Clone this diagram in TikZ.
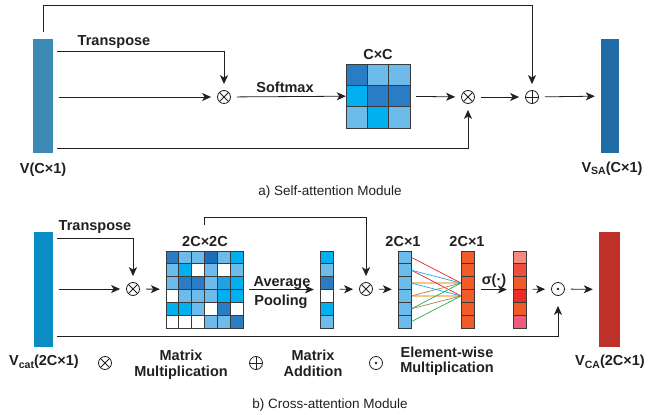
\documentclass[tikz,border=0pt]{standalone}
\usepackage{fontspec}
\setmainfont{Liberation Sans}
\usetikzlibrary{arrows.meta}

\definecolor{ink}{HTML}{231F20}
\definecolor{vA}{HTML}{3D8AB5}
\definecolor{vSA}{HTML}{1F6CA6}
\definecolor{vCat}{HTML}{0A8CC4}
\definecolor{vCA}{HTML}{C0302B}
\definecolor{dkb}{HTML}{2A7DC4}
\definecolor{dkbb}{HTML}{1C6EB6}
\definecolor{ltb}{HTML}{6DBBEA}
\definecolor{cyb}{HTML}{00B0F0}
\definecolor{mdb}{HTML}{22A0E0}
\definecolor{whb}{HTML}{FFFFFF}
\definecolor{org}{HTML}{F15A29}
\definecolor{salm}{HTML}{F58B80}
\definecolor{rdA}{HTML}{EE4D3C}
\definecolor{rdB}{HTML}{EC2B25}
\definecolor{pnk}{HTML}{EE5B7D}
\definecolor{cellline}{HTML}{3A3A3A}
\definecolor{fcred}{HTML}{E8202A}
\definecolor{fcblue}{HTML}{1AA8E8}
\definecolor{fcorg}{HTML}{F9C68A}
\definecolor{fcbrn}{HTML}{A87E5A}
\definecolor{fcgrn}{HTML}{1FB04C}

\newcommand\lowtxt[2]{\raisebox{-#1}{\fontsize{10.5}{10}\selectfont #2}}

\tikzset{
  inkline/.style={draw=ink, line width=0.8pt},
  flow/.style={inkline, -{Stealth[length=9pt,width=8pt,inset=2.5pt]}, shorten <=6pt, shorten >=6pt},
  op/.style={circle, inkline, minimum size=13pt, inner sep=0pt},
  mulop/.style={op, path picture={\draw[inkline] (path picture bounding box.north west) -- (path picture bounding box.south east)
      (path picture bounding box.north east) -- (path picture bounding box.south west);}},
  addop/.style={op, path picture={\draw[inkline] (path picture bounding box.north) -- (path picture bounding box.south)
      (path picture bounding box.east) -- (path picture bounding box.west);}},
  dotop/.style={op, path picture={\fill[ink] (path picture bounding box.center) circle (1.3pt);}},
  bar/.style={inner sep=0pt, minimum width=19pt, minimum height=114pt},
  box/.style={inner sep=0pt},
  lbl/.style={font=\fontsize{14.5}{15.5}\selectfont\bfseries, text=ink, inner sep=0pt, anchor=base, align=center},
  captxt/.style={font=\fontsize{13.5}{15}\selectfont, text=ink, inner sep=0pt, anchor=base},
  cell/.style={draw=cellline, line width=0.8pt},
}

\begin{document}
\begin{tikzpicture}[x=1pt,y=-1pt]
\useasboundingbox (0,0) rectangle (667,415);

% a) self-attention
\node[bar, fill=vA, minimum width=20pt] (V) at (43,96) {};
\node[bar, fill=vSA, minimum width=18pt] (VSA) at (610,96) {};
\node[lbl] (Vlbl) at (43,173) {V(C×1)};
\node[lbl] (VSAlbl) at (612,172) {V\lowtxt{2pt}{SA}(C×1)};
\node[mulop] (mulA) at (224,97) {};
\node[mulop] (mulB) at (468,97) {};
\node[addop] (addA) at (532,97) {};
\foreach \row [count=\r] in {{dkb,ltb,ltb},{cyb,dkb,dkb},{ltb,cyb,ltb}}
  \foreach \c [count=\k] in \row
    \filldraw[cell, fill=\c] ({346+(\k-1)*21.33},{64+(\r-1)*21.33}) rectangle ++(21.33,21.33);
\node[box, minimum size=64pt] (CC) at (378,96) {};
\node[lbl] (CClbl) at (378,59) {C×C};
\node[lbl] (tAlbl) at (114,45.5) {Transpose};
\node[lbl] (smlbl) at (285,92.5) {Softmax};

\coordinate (tA) at (57,51);
\coordinate (bA) at (57,148);
\draw[flow, shorten <=0pt] ([yshift=7pt]V.north) -- ++(0,-26) -| (addA);
\draw[flow, shorten <=0pt] (tA) -| (mulA);
\draw[flow] (V.east |- mulA) -- (mulA);
\draw[flow, shorten <=0pt] (bA) -| (mulB);
\draw[flow, shorten >=0pt] (mulA) -- (CC);
\draw[flow] (CC) -- (mulB);
\draw[flow] (mulB) -- (addA);
\draw[flow] (addA) -- (VSA);
\node[captxt] (capA) at (330,195) {a) Self-attention Module};

% b) cross-attention
\node[bar, fill=vCat, minimum height=115pt] (Vc) at (43.5,289.5) {};
\node[bar, fill=vCA, minimum width=21pt, minimum height=115pt] (VCA) at (609.5,289.5) {};
\node[lbl] (Vclbl) at (44,365) {V\lowtxt{3pt}{cat}(2C×1)};
\node[lbl] (VCAlbl) at (610,365) {V\lowtxt{3pt}{CA}(2C×1)};
\node[mulop] (mulC) at (133,289) {};
\node[mulop] (mulD) at (366,289) {};
\node[dotop] (dotA) at (558,289) {};

\foreach \row [count=\r] in {{dkb,ltb,ltb,dkbb,ltb,cyb},{ltb,cyb,whb,ltb,whb,ltb},{ltb,dkb,dkb,ltb,mdb,cyb},
    {whb,ltb,ltb,ltb,cyb,cyb},{cyb,cyb,ltb,whb,dkb,whb},{whb,whb,whb,ltb,ltb,dkb}}
  \foreach \c [count=\k] in \row
    \filldraw[cell, fill=\c] ({166+(\k-1)*12.83},{251+(\r-1)*12.83}) rectangle ++(12.83,12.83);
\node[box, minimum size=77pt] (MM) at (204.5,289.5) {};

\foreach \c [count=\r] in {cyb,ltb,dkb,whb,cyb,ltb}
  \filldraw[cell, fill=\c] (320,{251+(\r-1)*12.83}) rectangle ++(13.5,12.83);
\foreach \c [count=\r] in {ltb,ltb,ltb,ltb,ltb,ltb}
  \filldraw[cell, fill=\c] (398,{251+(\r-1)*12.83}) rectangle ++(13.5,12.83);
\foreach \c [count=\r] in {org,org,org,org,org,org}
  \filldraw[cell, fill=\c] (461,{251+(\r-1)*12.83}) rectangle ++(13.5,12.83);
\foreach \c [count=\r] in {salm,rdA,org,rdB,org,pnk}
  \filldraw[cell, fill=\c] (513,{251+(\r-1)*12.83}) rectangle ++(13.5,12.83);
\node[box, minimum width=13.5pt, minimum height=77pt] (vecA) at (326.75,289.5) {};
\node[box, minimum width=13.5pt, minimum height=77pt] (vecB) at (404.75,289.5) {};
\node[box, minimum width=13.5pt, minimum height=77pt] (vecC) at (467.75,289.5) {};
\node[box, minimum width=13.5pt, minimum height=77pt] (vecD) at (519.75,289.5) {};

% dense links
\foreach \i/\j in {3/3,4/4}
  \draw[fcorg, line width=2pt] (411.5,{251+(\i-0.5)*12.83}) -- (461,{251+(\j-0.5)*12.83});
\foreach \i/\j/\c in {1/3/fcred,2/4/fcred,2/3/fcblue,3/4/fcblue,4/3/fcbrn,5/4/fcbrn,5/3/fcgrn,6/4/fcgrn}
  \draw[\c, line width=0.7pt] (411.5,{251+(\i-0.5)*12.83}) -- (461,{251+(\j-0.5)*12.83});

\node[lbl] (MMlbl) at (205,246) {2C×2C};
\node[lbl] (vBlbl) at (403,246) {2C×1};
\node[lbl] (vClbl) at (467,246) {2C×1};
\node[lbl] (tClbl) at (95,230) {Transpose};
\node[lbl] (avglbl) at (282,286) {Average};
\node[lbl] (poollbl) at (281,305) {Pooling};
\node[lbl] (siglbl) at (494,284.5) {σ(·)};

\coordinate (tC) at (57,238);
\coordinate (sD) at (204,225);
\coordinate (bC) at (57,336);
\draw[flow, shorten <=0pt] (tC) -| (mulC);
\draw[flow] (Vc.east |- mulC) -- (mulC);
\draw[flow] (mulC) -- (MM);
\draw[flow, shorten <=0pt] (sD) -- ++(0,-8) -| (mulD);
\draw[flow] (MM) -- (vecA);
\draw[flow] (vecA) -- (mulD);
\draw[flow] (mulD) -- (vecB);
\draw[flow] (vecC) -- (vecD);
\draw[flow] (vecD) -- (dotA);
\draw[flow] (dotA) -- (VCA);
\draw[flow, shorten <=0pt, shorten >=10pt] (bC) -| (dotA);

% legend
\node[mulop] (legmul) at (105,363) {};
\node[lbl, anchor=north] (legmullbl) at (181,350) {Matrix\\Multiplication};
\node[addop] (legadd) at (256,363) {};
\node[lbl, anchor=north] (legaddlbl) at (313,350) {Matrix\\Addition};
\node[dotop] (legdot) at (376,363) {};
\node[lbl, anchor=north] (legdotlbl) at (447,346.5) {Element-wise\\Multiplication};
\node[captxt] (capB) at (330,408) {b) Cross-attention Module};
\end{tikzpicture}
\end{document}
